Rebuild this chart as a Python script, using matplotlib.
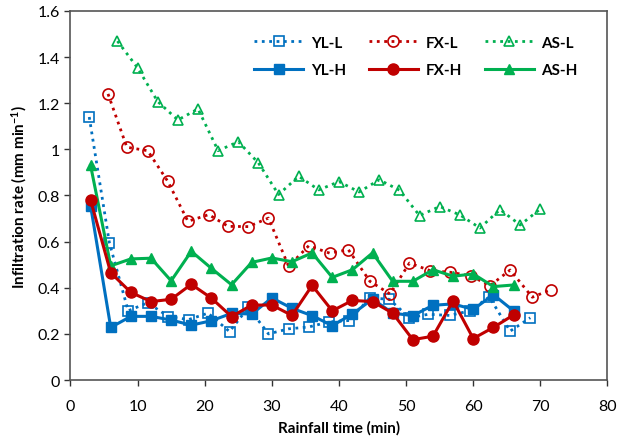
import matplotlib
matplotlib.use("Agg")
import matplotlib.pyplot as plt
from matplotlib.ticker import FuncFormatter

# 数据
yl_l_x = [2.8, 5.8, 8.6, 11.5, 14.6, 17.6, 20.5, 23.7, 26.5, 29.5, 32.5, 35.5,
          38.5, 41.5, 44.6, 47.5, 50.5, 53.3, 56.5, 59.5, 62.4, 65.5, 68.5]
yl_l_y = [1.14, 0.595, 0.30, 0.335, 0.275, 0.262, 0.29, 0.21, 0.315, 0.20, 0.222, 0.23,
          0.252, 0.258, 0.356, 0.35, 0.27, 0.285, 0.28, 0.30, 0.36, 0.212, 0.27]

fx_l_x = [5.6, 8.4, 11.5, 14.5, 17.5, 20.6, 23.5, 26.5, 29.5, 32.5, 35.5, 38.6,
          41.4, 44.6, 47.6, 50.5, 53.6, 56.6, 59.6, 62.5, 65.5, 68.8, 71.6]
fx_l_y = [1.24, 1.009, 0.994, 0.861, 0.688, 0.717, 0.666, 0.665, 0.702, 0.493, 0.582, 0.55,
          0.565, 0.428, 0.373, 0.507, 0.474, 0.467, 0.452, 0.409, 0.477, 0.359, 0.392]

as_l_x = [7, 10, 13, 16, 19, 22, 25, 28, 31, 34, 37, 40, 43, 46, 49, 52, 55, 58, 61, 64, 67, 70]
as_l_y = [1.469, 1.353, 1.207, 1.127, 1.175, 0.994, 1.033, 0.941, 0.804, 0.883, 0.824,
          0.86, 0.815, 0.868, 0.823, 0.713, 0.752, 0.716, 0.659, 0.739, 0.672, 0.742]

h_x = [3, 6, 9, 12, 15, 18, 21, 24, 27, 30, 33, 36, 39, 42, 45, 48, 51, 54, 57, 60, 63, 66]
yl_h_y = [0.755, 0.228, 0.276, 0.276, 0.26, 0.238, 0.257, 0.289, 0.286, 0.356, 0.311,
          0.279, 0.236, 0.286, 0.351, 0.29, 0.279, 0.324, 0.33, 0.306, 0.37, 0.30]
fx_h_y = [0.78, 0.465, 0.38, 0.34, 0.35, 0.415, 0.355, 0.275, 0.325, 0.325, 0.28,
          0.41, 0.30, 0.345, 0.34, 0.29, 0.175, 0.19, 0.343, 0.18, 0.228, 0.282]
as_h_y = [0.93, 0.495, 0.525, 0.528, 0.43, 0.558, 0.484, 0.413, 0.51, 0.529, 0.513,
          0.551, 0.445, 0.478, 0.551, 0.428, 0.428, 0.478, 0.45, 0.46, 0.405, 0.412]

blue = "#0070C0"
red = "#C00000"
green = "#00B050"

plt.rcParams['font.family'] = ['Lato', 'DejaVu Sans']
plt.rcParams['mathtext.fontset'] = 'custom'
plt.rcParams['mathtext.rm'] = 'Lato'
plt.rcParams['mathtext.bf'] = 'Lato:bold'

fig = plt.figure(figsize=(6.18, 4.39), dpi=100)
ax = fig.add_axes([0.114, 0.132, 0.869, 0.841])

# 低强度（虚线，空心标记）
l1, = ax.plot(yl_l_x, yl_l_y, ls=':', lw=2, color=blue, marker='s', ms=6.5,
              mfc='none', mec=blue, mew=1.2, label='YL-L')
l3, = ax.plot(fx_l_x, fx_l_y, ls=':', lw=2, color=red, marker='o', ms=8,
              mfc='none', mec=red, mew=1.2, label='FX-L')
l5, = ax.plot(as_l_x, as_l_y, ls=':', lw=2, color=green, marker='^', ms=7.5,
              mfc='none', mec=green, mew=1.2, label='AS-L')
# 高强度（实线，实心标记）
l2, = ax.plot(h_x, yl_h_y, ls='-', lw=2.2, color=blue, marker='s', ms=7, label='YL-H')
l6, = ax.plot(h_x, as_h_y, ls='-', lw=2.2, color=green, marker='^', ms=7.5, label='AS-H')
l4, = ax.plot(h_x, fx_h_y, ls='-', lw=2.2, color=red, marker='o', ms=8, label='FX-H')

ax.set_xlim(0, 80)
ax.set_ylim(0, 1.6)
ax.set_xticks(range(0, 81, 10))
ax.set_yticks([0, 0.2, 0.4, 0.6, 0.8, 1.0, 1.2, 1.4, 1.6])
ax.yaxis.set_major_formatter(FuncFormatter(lambda v, p: "%g" % round(v, 2)))
ax.tick_params(direction='out', length=4, width=1, labelsize=11.5, colors='#333333',
               labelcolor='black')
ax.tick_params(axis='x', pad=10)
for s in ax.spines.values():
    s.set_color('#555555')
    s.set_linewidth(1.2)

ax.set_xlabel("Rainfall time (min)", fontsize=11, fontweight='bold', labelpad=5)
ax.set_ylabel(r"Infiltration rate (mm min$\mathbf{^{-1}}$)", fontsize=11, fontweight='bold', labelpad=6)

leg = ax.legend(handles=[l1, l2, l3, l4, l5, l6], ncol=3, frameon=False, loc='upper right',
                bbox_to_anchor=(0.97, 0.97), numpoints=1, handlelength=3.2,
                columnspacing=1.5, labelspacing=0.9, handletextpad=0.5,
                prop={'weight': 'bold', 'size': 11})

plt.savefig("out.png", dpi=100)
